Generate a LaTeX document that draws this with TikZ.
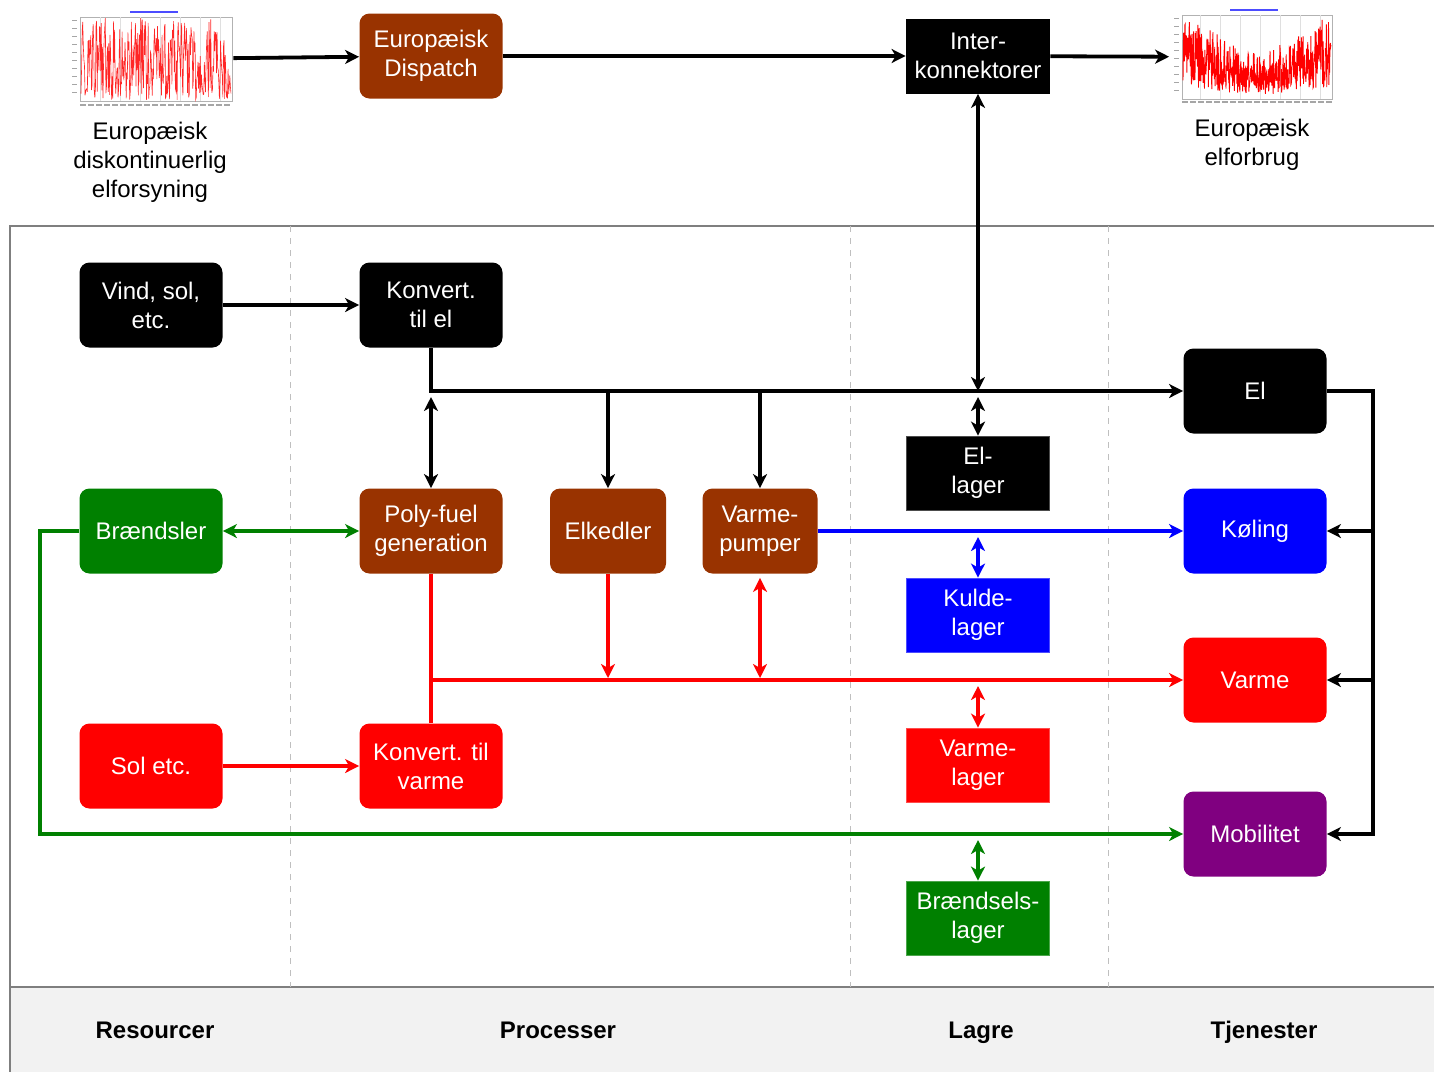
\documentclass[tikz,border=0pt]{standalone}
\usepackage{fontspec}
\setmainfont{Liberation Sans}
\usetikzlibrary{arrows.meta}

\definecolor{brun}{HTML}{993300}
\definecolor{groen}{HTML}{008000}
\definecolor{lilla}{HTML}{800080}
\definecolor{ramme}{HTML}{7F7F7F}
\definecolor{baand}{HTML}{F2F2F2}

\newcommand{\boksfont}{\fontsize{12}{14.5}\selectfont}

\begin{document}
\begin{tikzpicture}[x=0.5pt, y=-0.5pt,
  >={Stealth[length=7pt,width=7pt,inset=2pt]},
  boks/.style={fill=#1, rounded corners=5pt, minimum width=71.5pt, minimum height=42.5pt,
    inner sep=0pt, align=center, text=white, font=\boksfont},
  lager/.style={fill=#1, draw=#1!70!white, line width=0.4pt, minimum width=71.5pt, minimum height=37pt,
    inner sep=0pt, align=center, text=white, font=\boksfont},
  tekst/.style={align=center, font=\boksfont},
  kolonne/.style={anchor=base, font=\bfseries\fontsize{12}{14}\selectfont},
  graf/.style={minimum width=#1, minimum height=45pt, inner sep=0pt},
  linje/.style={line width=1.9pt},
  pil/.style={->, line width=1.9pt},
  dobbelt/.style={<->, line width=1.9pt}]

\useasboundingbox (0,0) rectangle (1434,1072);

% ramme og kolonner
\fill[baand] (10,987) rectangle (1434,1072);
\draw[ramme, line width=0.8pt] (1434,226) -- (10,226) -- (10,1072);
\draw[ramme, line width=0.8pt] (10,987) -- (1434,987);
\foreach \x in {290,850,1108}
  \draw[gray!50, dashed, line width=0.5pt] (\x,226) -- (\x,987);

\node[kolonne] (resourcer) at (155,1038) {Resourcer};
\node[kolonne] (processer) at (558,1038) {Processer};
\node[kolonne] (lagre) at (981,1038) {Lagre};
\node[kolonne] (tjenester) at (1264,1038) {Tjenester};

% grafer
\pgfmathsetseed{7}
\draw[gray!60, line width=0.3pt] (80,17) rectangle (232,101);
\foreach \x in {100,120,...,220}
  \draw[gray!25, line width=0.2pt] (\x,17) -- (\x,101);
\foreach \y in {20,28,...,96}
  \draw[gray!70, line width=0.4pt] (72,\y) -- (77,\y);
\draw[gray!70, line width=1pt, dash pattern=on 3pt off 1pt] (80,105) -- (232,105);
\draw[blue!70, line width=0.6pt] (130,12) -- (178,12);
\draw[red!85, line width=0.3pt] plot[domain=0:1, samples=260] ({81+150*\x},{100-82*rnd^1.3});
\node[graf=80pt] (venstregraf) at (153,59) {};

\draw[gray!60, line width=0.3pt] (1182,15) rectangle (1332,99);
\foreach \x in {1200,1220,...,1320}
  \draw[gray!25, line width=0.2pt] (\x,15) -- (\x,99);
\foreach \y in {18,26,...,94}
  \draw[gray!70, line width=0.4pt] (1174,\y) -- (1179,\y);
\draw[gray!70, line width=1pt, dash pattern=on 3pt off 1pt] (1182,102) -- (1332,102);
\draw[blue!70, line width=0.6pt] (1230,10) -- (1278,10);
\draw[red, line width=0.45pt] plot[domain=0:1, samples=420]
  ({1183+148*\x},{17+36*sin(180*\x)^2+(70-28*sin(180*\x)^2)*rnd^0.8});
\node[graf=82.5pt] (hoejregraf) at (1252,57) {};

\node[tekst] (venstretekst) at (150,162) {Europæisk\\diskontinuerlig\\elforsyning};
\node[tekst] (hoejretekst) at (1252,145) {Europæisk\\elforbrug};

% bokse
\node[boks=brun] (dispatch) at (431,56) {Europæisk\\Dispatch};
\node[boks=black, rounded corners=0pt, minimum width=72pt, minimum height=37.5pt] (inter) at (978,56) {Inter-\\konnektorer};

\node[boks=black] (vind) at (151,305) {Vind, sol,\\etc.};
\node[boks=black] (konvel) at (431,305) {Konvert.\\til el};
\node[boks=brun] (poly) at (431,531) {Poly-fuel\\generation};
\node[boks=brun, minimum width=58pt] (elkedel) at (608,531) {Elkedler};
\node[boks=brun, minimum width=57.5pt] (varmepumpe) at (760,531) {Varme-\\pumper};
\node[boks=groen] (braendsler) at (151,531) {Brændsler};
\node[boks=red] (sol) at (151,766) {Sol etc.};
\node[boks=red] (konvvarme) at (431,766) {Konvert. til\\varme};

\node[lager=black] (ellager) at (978,473) {El-\\lager};
\node[lager=blue] (kuldelager) at (978,615) {Kulde-\\lager};
\node[lager=red] (varmelager) at (978,765) {Varme-\\lager};
\node[lager=groen] (braendselslager) at (978,918) {Brændsels-\\lager};

\node[boks=black] (el) at (1255,391) {El};
\node[boks=blue] (koeling) at (1255,531) {Køling};
\node[boks=red] (varme) at (1255,680) {Varme};
\node[boks=lilla] (mobilitet) at (1255,834) {Mobilitet};

\coordinate (elhjoerne) at (1373,391);
\coordinate (mobhjoerne) at (1373,834);
\coordinate (groen1) at (40,531);
\coordinate (groen2) at (40,834);
\coordinate (roedknude) at (431,680);

% el
\draw[pil] (venstregraf) -- (dispatch);
\draw[pil] (dispatch) -- (inter);
\draw[pil] (inter) -- (hoejregraf);
\draw[dobbelt] (inter) -- (inter |- el);
\draw[pil] (vind) -- (konvel);
\draw[pil] (konvel) |- (el);
\draw[dobbelt, shorten <=3pt] (poly |- el) -- (poly);
\draw[pil] (elkedel |- el) -- (elkedel);
\draw[pil] (varmepumpe |- el) -- (varmepumpe);
\draw[dobbelt, shorten <=3pt] (ellager |- el) -- (ellager);
\draw[pil] (el) -- (elhjoerne) -- (mobhjoerne) -- (mobilitet);
\draw[pil] (elhjoerne |- koeling) -- (koeling);
\draw[pil] (elhjoerne |- varme) -- (varme);

% braendsel
\draw[dobbelt, groen] (braendsler) -- (poly);
\draw[pil, groen] (braendsler) -- (groen1) -- (groen2) -- (mobilitet);
\draw[dobbelt, groen, shorten <=3pt] (braendselslager |- mobilitet) -- (braendselslager);

% koeling
\draw[pil, blue] (varmepumpe) -- (koeling);
\draw[dobbelt, blue, shorten <=3pt] (kuldelager |- koeling) -- (kuldelager);

% varme
\draw[linje, red] (poly) -- (konvvarme);
\draw[pil, red] (roedknude) -- (varme);
\draw[pil, red, shorten >=1pt] (elkedel) -- (elkedel |- varme);
\draw[dobbelt, red, shorten <=2pt, shorten >=1pt] (varmepumpe) -- (varmepumpe |- varme);
\draw[dobbelt, red, shorten <=3pt] (varmelager |- varme) -- (varmelager);
\draw[pil, red] (sol) -- (konvvarme);
\end{tikzpicture}
\end{document}
